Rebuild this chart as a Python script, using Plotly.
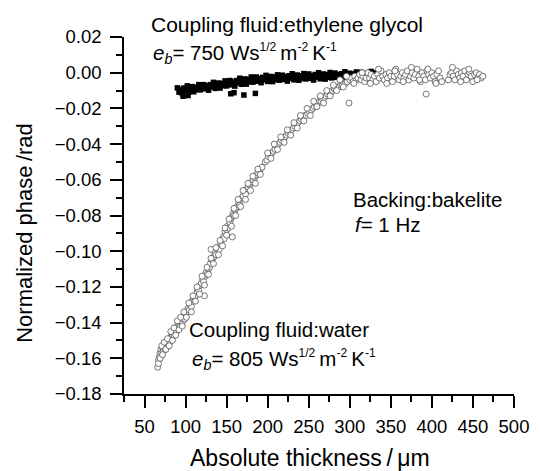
import plotly.graph_objects as go

# ---------------- data ----------------
# Coupling fluid: ethylene glycol (filled squares)
glycol_x = [90, 92, 94, 96, 97, 98, 100, 102, 103, 104, 106, 108, 110, 112, 114, 116, 118, 120,
            122, 124, 126, 128, 130, 132, 134, 136, 138, 140, 142, 144, 146, 148, 150, 152, 154,
            155, 156, 158, 159, 160, 162, 164, 166, 168, 170, 171, 172, 174, 176, 178, 180, 182,
            184, 185, 186, 188, 190, 192, 194, 196, 198, 200, 202, 204, 206, 208, 210, 212, 214,
            216, 218, 220, 222, 224, 226, 228, 230, 232, 234, 236, 238, 240, 242, 244, 246, 248,
            250, 252, 254, 256, 258, 260, 262, 264, 266, 268, 270, 272, 274, 276, 278, 280, 282,
            284, 286, 288, 290, 292, 294, 296, 298, 300, 302, 304, 306, 308, 310, 312, 314, 316,
            318, 320, 322, 324, 326, 328, 330, 332, 334, 336, 338, 340]
glycol_y = [-0.0085, -0.0109, -0.0093, -0.0117, -0.0132, -0.0086, -0.0100, -0.0074, -0.0128, -0.0108,
            -0.0092, -0.0078, -0.0107, -0.0081, -0.0095, -0.0067, -0.0096, -0.0080, -0.0067, -0.0090,
            -0.0074, -0.0098, -0.0067, -0.0080, -0.0054, -0.0088, -0.0071, -0.0058, -0.0086, -0.0060,
            -0.0073, -0.0046, -0.0074, -0.0058, -0.0044, -0.0118, -0.0068, -0.0051, -0.0112, -0.0075,
            -0.0044, -0.0057, -0.0031, -0.0065, -0.0048, -0.0125, -0.0035, -0.0064, -0.0037, -0.0051,
            -0.0024, -0.0053, -0.0037, -0.0116, -0.0024, -0.0048, -0.0032, -0.0056, -0.0026, -0.0040,
            -0.0015, -0.0049, -0.0033, -0.0021, -0.0050, -0.0024, -0.0039, -0.0012, -0.0042, -0.0026,
            -0.0014, -0.0038, -0.0023, -0.0047, -0.0017, -0.0031, -0.0006, -0.0040, -0.0025, -0.0013,
            -0.0042, -0.0017, -0.0031, -0.0005, -0.0035, -0.0019, -0.0007, -0.0032, -0.0016, -0.0041,
            -0.0010, -0.0025, 0.0000, -0.0034, -0.0019, -0.0007, -0.0036, -0.0011, -0.0026, 0.0001,
            -0.0029, -0.0014, -0.0002, -0.0026, -0.0011, -0.0036, -0.0006, -0.0021, 0.0005, -0.0030,
            -0.0015, -0.0003, -0.0033, -0.0007, -0.0022, 0.0004, -0.0026, -0.0011, 0.0002, -0.0023,
            -0.0008, -0.0033, -0.0003, -0.0018, 0.0007, -0.0028, -0.0013, -0.0001, -0.0032, -0.0007,
            -0.0023, -0.0012]

# Coupling fluid: water (open circles)
water_x = [66, 67, 68, 69, 70, 71, 72, 73, 74, 75, 76, 77, 78, 79, 80, 81, 82, 83, 84, 85,
           86, 87, 88, 89, 90, 91, 92, 93, 94, 95, 96, 97, 98, 99, 100, 102, 103, 104, 106, 107,
           108, 110, 111, 112, 114, 115, 116, 118, 119, 121, 122, 123, 124, 125, 126, 128, 129, 130,
           131, 132, 133, 135, 136, 137, 139, 140, 141, 143, 144, 146, 147, 148, 150, 151, 152, 154,
           155, 156, 157, 158, 159, 160, 162, 163, 165, 166, 167, 169, 170, 172, 173, 175, 176, 178,
           179, 181, 182, 184, 185, 187, 188, 190, 191, 193,
           197, 199, 201, 203, 205, 207, 209, 211, 213, 215, 217, 219, 221, 223, 225, 227, 229, 231,
           233, 235, 237, 239, 241, 243, 245, 247, 249, 251, 253, 255, 257, 259, 261, 263, 265, 267,
           269, 271, 273, 275, 277, 279, 281, 283, 285, 287, 289, 291, 293, 295, 297, 299,
           300, 302, 304, 306, 308, 310, 312, 314, 316, 318, 320, 322, 324, 326, 328, 330, 332, 334,
           336, 338, 340, 342, 344, 346, 348, 350, 352, 354, 356, 358, 360, 362, 364, 366, 368, 370,
           372, 374, 376, 378, 380, 382, 384, 386, 388, 390, 392, 393, 394, 396, 398, 400, 402, 404,
           406, 408, 410, 412, 420, 422, 424, 426, 428, 430, 432, 434, 436, 438, 440, 442, 444, 446,
           448, 450, 452, 454, 456, 458, 460, 462,
           67, 69, 71, 72, 74, 76, 78, 80, 82, 84, 86, 88, 90, 92, 94, 96, 98, 101, 104, 107,
           109, 112, 114, 117, 120, 123, 126, 128, 131, 134, 137, 140, 142, 145, 148, 150, 153, 156,
           159, 161, 164, 167, 170, 173, 176, 179, 182, 185, 188, 191, 200, 204, 208, 212, 216, 220,
           224, 228, 232, 236, 240, 244, 248, 252, 256, 260, 264, 268, 272, 276, 280, 284, 288, 292,
           296, 305, 315, 325, 335, 345, 355, 365, 375, 385, 395, 405, 425, 435, 445, 455]
water_y = [-0.165, -0.161, -0.159, -0.157, -0.155, -0.157, -0.154, -0.156, -0.153, -0.155,
           -0.152, -0.154, -0.151, -0.152, -0.150, -0.151, -0.148, -0.149, -0.147, -0.146,
           -0.147, -0.145, -0.144, -0.145, -0.142, -0.143, -0.141, -0.142, -0.140, -0.139,
           -0.140, -0.138, -0.137, -0.138, -0.135, -0.134, -0.132, -0.133, -0.130, -0.131,
           -0.128, -0.127, -0.126, -0.125, -0.123, -0.121, -0.122, -0.119, -0.118, -0.116,
           -0.117, -0.125, -0.114, -0.112, -0.113, -0.110, -0.109, -0.107, -0.099, -0.105,
           -0.104, -0.103, -0.101, -0.102, -0.099, -0.098, -0.099, -0.096, -0.094, -0.092,
           -0.093, -0.089, -0.088, -0.086, -0.087, -0.084, -0.082, -0.081, -0.092, -0.079,
           -0.080, -0.077, -0.076, -0.075, -0.073, -0.074, -0.071, -0.070, -0.069, -0.067,
           -0.068, -0.065, -0.064, -0.063, -0.062, -0.061, -0.060, -0.059, -0.058, -0.057,
           -0.056, -0.055, -0.054, -0.053,
           -0.050, -0.049, -0.047, -0.046, -0.045, -0.044, -0.043, -0.041, -0.040, -0.039,
           -0.038, -0.037, -0.036, -0.035, -0.034, -0.033, -0.032, -0.031, -0.030, -0.029,
           -0.028, -0.027, -0.026, -0.025, -0.024, -0.024, -0.023, -0.022, -0.021, -0.020,
           -0.019, -0.018, -0.017, -0.016, -0.016, -0.015, -0.014, -0.013, -0.012, -0.011,
           -0.011, -0.010, -0.009, -0.009, -0.008, -0.008, -0.007, -0.007, -0.006, -0.006,
           -0.005, -0.017,
           -0.004, -0.003, -0.005, -0.002, -0.004, -0.003, -0.001, -0.004, -0.002, -0.005,
           -0.003, 0.000, -0.003, -0.001, -0.004, -0.002, -0.005, -0.001, -0.003, 0.001,
           -0.002, -0.004, -0.001, -0.003, 0.000, -0.002, -0.005, -0.002, 0.002, -0.001,
           -0.004, -0.002, 0.000, -0.003, -0.001, 0.001, -0.004, -0.002, 0.000, -0.003,
           -0.001, 0.002, -0.002, -0.005, 0.000, -0.002, -0.004, -0.012, 0.001, -0.001,
           -0.003, 0.000, -0.002, -0.005, -0.001, 0.001, -0.003, -0.005, -0.004, -0.001,
           0.000, -0.002, -0.004, 0.001, -0.001, -0.003, 0.000, -0.002, 0.001, -0.004,
           -0.001, 0.000, -0.002, -0.005, -0.001, 0.000, -0.003, -0.001, -0.003, -0.002,
           -0.163, -0.160, -0.153, -0.158, -0.151, -0.155, -0.149, -0.153, -0.145, -0.150,
           -0.143, -0.147, -0.139, -0.144, -0.137, -0.142, -0.134, -0.137, -0.129, -0.134,
           -0.125, -0.128, -0.120, -0.124, -0.114, -0.119, -0.109, -0.113, -0.104, -0.107,
           -0.098, -0.102, -0.094, -0.097, -0.087, -0.091, -0.082, -0.086, -0.076, -0.080,
           -0.071, -0.075, -0.066, -0.071, -0.062, -0.066, -0.058, -0.062, -0.054, -0.057,
           -0.045, -0.048, -0.040, -0.043, -0.036, -0.039, -0.032, -0.035, -0.028, -0.031,
           -0.024, -0.027, -0.020, -0.024, -0.016, -0.019, -0.013, -0.017, -0.010, -0.013,
           -0.007, -0.010, -0.004, -0.008, -0.002, -0.006, 0.000, -0.006, 0.002, -0.006,
           0.001, -0.005, 0.003, -0.004, 0.002, -0.006, 0.003, -0.005, 0.002, -0.004]

x_ticks = [50, 100, 150, 200, 250, 300, 350, 400, 450, 500]
y_ticks = [0.02, 0.00, -0.02, -0.04, -0.06, -0.08, -0.10, -0.12, -0.14, -0.16, -0.18]

FONT = "Liberation Sans, Arial, sans-serif"

fig = go.Figure()
fig.add_trace(go.Scatter(
    x=glycol_x, y=glycol_y, mode="markers",
    marker=dict(symbol="square", size=5.5, color="black", line=dict(width=0)),
    showlegend=False))
fig.add_trace(go.Scatter(
    x=water_x, y=water_y, mode="markers",
    marker=dict(symbol="circle", size=6, color="white", line=dict(width=0.8, color="#555555")),
    showlegend=False))

axis_common = dict(
    showgrid=False, zeroline=False, showline=True, linecolor="black", linewidth=1.6,
    ticks="outside", ticklen=12, tickwidth=1.6, tickcolor="black",
    tickfont=dict(family=FONT, size=18.5, color="black"),
)

fig.update_xaxes(range=[25, 500], tickvals=x_ticks, ticklabelstandoff=3,
                 ticklabeloverflow="allow",
                 minor=dict(ticks="outside", ticklen=6, tickwidth=1.6, tickcolor="black",
                            tick0=25, dtick=25),
                 **axis_common)
fig.update_yaxes(range=[-0.18, 0.02], tickvals=y_ticks, tickformat=".2f",
                 ticklabelstandoff=5,
                 minor=dict(ticks="outside", ticklen=6, tickwidth=1.6, tickcolor="black",
                            tick0=0, dtick=0.01),
                 **axis_common)


def sup(t):
    return "<sup><span style='font-size:12px'>" + t + "</span></sup>"


eb_750 = "<i>e</i><sub><i>b</i></sub>= 750 Ws" + sup("1/2") + "\u2009m" + sup("-2") + "\u2009K" + sup("-1")
eb_805 = "<i>e</i><sub><i>b</i></sub>= 805 Ws" + sup("1/2") + "\u2009m" + sup("-2") + "\u2009K" + sup("-1")
annotations = [
    dict(text="Coupling fluid:ethylene glycol", x=0.064, y=1.036, size=21),
    dict(text=eb_750, x=0.070, y=0.955, size=20.5),
    dict(text="Backing:bakelite", x=0.583, y=0.546, size=20.5),
    dict(text="<i>f</i>= 1 Hz", x=0.588, y=0.476, size=20.5),
    dict(text="Coupling fluid:water", x=0.161, y=0.182, size=20.5),
    dict(text=eb_805, x=0.170, y=0.098, size=20.5),
]
for a in annotations:
    fig.add_annotation(xref="paper", yref="paper", xanchor="left", yanchor="middle",
                       showarrow=False, text=a["text"], x=a["x"], y=a["y"],
                       font=dict(family=FONT, size=a["size"], color="black"))

fig.add_annotation(text="Absolute thickness\u2009/\u2009\u03bcm", xref="paper", yref="paper",
                   x=0.478, y=-0.180, xanchor="center", yanchor="middle", showarrow=False,
                   font=dict(family=FONT, size=23, color="black"))
fig.add_annotation(text="Normalized phase\u2009/rad", xref="paper", yref="paper",
                   x=-0.256, y=0.452, xanchor="center", yanchor="middle", showarrow=False,
                   textangle=-90, font=dict(family=FONT, size=22, color="black"))

fig.update_layout(width=541, height=471, margin=dict(l=124, r=15, t=37, b=77),
                  paper_bgcolor="white", plot_bgcolor="white")

fig.write_html("out.html")
